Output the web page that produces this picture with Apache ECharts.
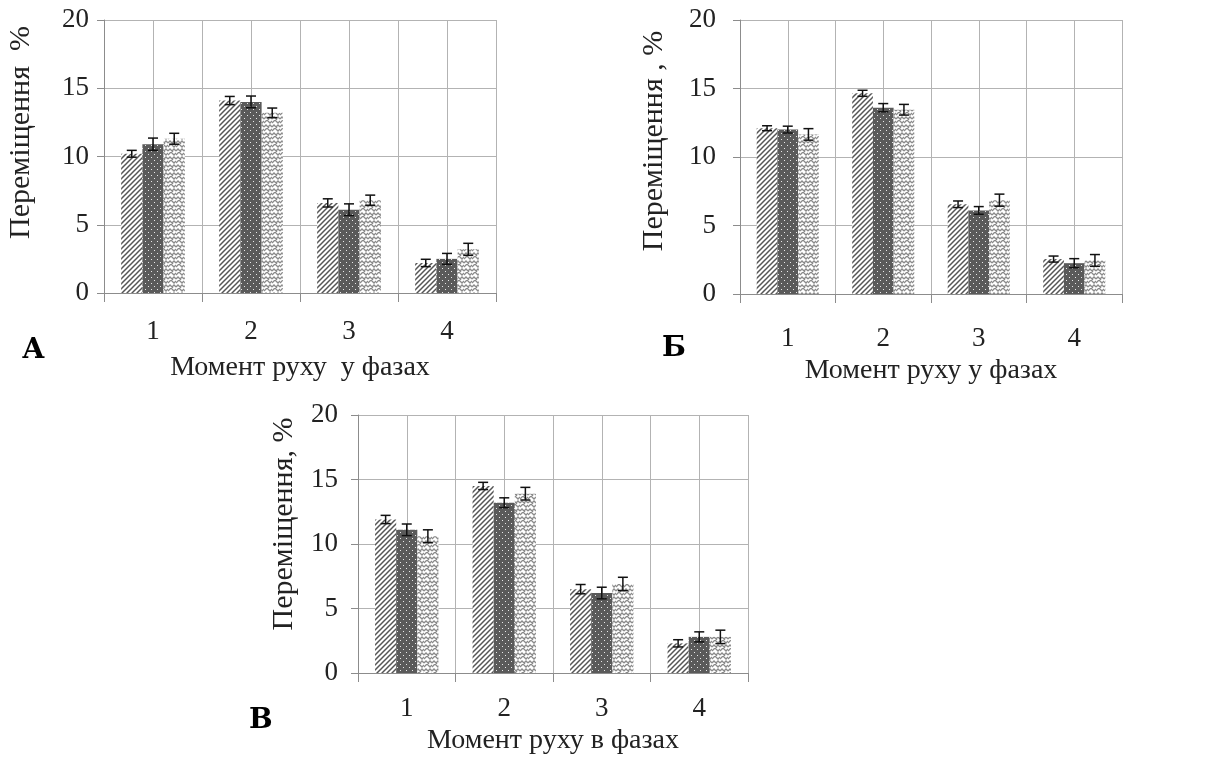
<!DOCTYPE html>
<html>
<head>
<meta charset="utf-8">
<script src="https://cdn.jsdelivr.net/npm/echarts@6/dist/echarts.min.js"></script>
<style>html,body{margin:0;padding:0;background:#fff;}#c{width:1211px;height:764px;}</style>
</head>
<body>
<div id="c"></div>
<script>
// ---- data ----
const categories = ['1', '2', '3', '4'];
const yTicks = [0, 5, 10, 15, 20];

const A_s1 = [10.2, 14.1, 6.6, 2.2];
const A_s1_err = [0.25, 0.3, 0.3, 0.27];
const A_s2 = [10.9, 14.0, 6.1, 2.5];
const A_s2_err = [0.45, 0.43, 0.43, 0.4];
const A_s3 = [11.3, 13.2, 6.8, 3.2];
const A_s3_err = [0.4, 0.35, 0.37, 0.44];

const B_s1 = [12.1, 14.65, 6.55, 2.55];
const B_s1_err = [0.18, 0.22, 0.24, 0.22];
const B_s2 = [12.0, 13.6, 6.1, 2.25];
const B_s2_err = [0.25, 0.3, 0.28, 0.33];
const B_s3 = [11.65, 13.45, 6.85, 2.45];
const B_s3_err = [0.42, 0.39, 0.44, 0.43];

const V_s1 = [11.9, 14.5, 6.5, 2.3];
const V_s1_err = [0.32, 0.28, 0.36, 0.28];
const V_s2 = [11.1, 13.2, 6.2, 2.8];
const V_s2_err = [0.45, 0.38, 0.45, 0.39];
const V_s3 = [10.6, 13.9, 6.9, 2.8];
const V_s3_err = [0.5, 0.49, 0.52, 0.52];

const yTitles = ['Переміщення  %', 'Переміщення , %', 'Переміщення, %'];
const xTitles = ['Момент руху  у фазах', 'Момент руху у фазах', 'Момент руху в фазах'];
const panelLetters = ['А', 'Б', 'В'];

// ---- patterns ----
function mkCanvas(w, h) { const c = document.createElement('canvas'); c.width = w; c.height = h; return c; }
function hatchPattern() {
  const c = mkCanvas(5, 5); const g = c.getContext('2d');
  g.fillStyle = '#fff'; g.fillRect(0, 0, 5, 5);
  g.strokeStyle = '#555'; g.lineWidth = 1.5;
  g.beginPath();
  g.moveTo(-1, 6); g.lineTo(6, -1);
  g.moveTo(-1, 1); g.lineTo(1, -1);
  g.moveTo(4, 6); g.lineTo(6, 4);
  g.stroke();
  return c;
}
function dotPattern() {
  const c = mkCanvas(6, 6); const g = c.getContext('2d');
  g.fillStyle = '#5a5a5a'; g.fillRect(0, 0, 6, 6);
  g.fillStyle = '#e8e8e8';
  g.fillRect(1, 1, 1, 1); g.fillRect(4, 4, 1, 1);
  return c;
}
function weavePattern() {
  const c = mkCanvas(8, 8); const g = c.getContext('2d');
  g.fillStyle = '#fff'; g.fillRect(0, 0, 8, 8);
  g.strokeStyle = '#8a8a8a'; g.lineWidth = 1.3;
  g.beginPath();
  g.moveTo(0, 3); g.lineTo(3, 0); g.lineTo(6, 3); g.lineTo(8, 1);
  g.moveTo(0, 7); g.lineTo(2, 5); g.lineTo(5, 8);
  g.moveTo(4, 7); g.lineTo(6, 5); g.lineTo(8, 7);
  g.moveTo(-1, 2); g.lineTo(0, 3);
  g.stroke();
  return c;
}
const fills = [
  { image: hatchPattern(), repeat: 'repeat' },
  { image: dotPattern(), repeat: 'repeat' },
  { image: weavePattern(), repeat: 'repeat' }
];

const CAT_GAP = 0.35;
const panels = [
  { grid: { left: 104, top: 20, width: 392, height: 273 }, series: [A_s1, A_s2, A_s3], errs: [A_s1_err, A_s2_err, A_s3_err],
    letter: { x: 22, y: 337 }, yLabMargin: 15, xLabMargin: 25, xNameGap: 61, yNameGap: 68, yNamePad: 48 },
  { grid: { left: 740, top: 20, width: 382, height: 274 }, series: [B_s1, B_s2, B_s3], errs: [B_s1_err, B_s2_err, B_s3_err],
    letter: { x: 662, y: 335 }, yLabMargin: 24, xLabMargin: 31, xNameGap: 63, yNameGap: 71, yNamePad: 32 },
  { grid: { left: 358, top: 415, width: 390, height: 258 }, series: [V_s1, V_s2, V_s3], errs: [V_s1_err, V_s2_err, V_s3_err],
    letter: { x: 249, y: 707 }, yLabMargin: 20, xLabMargin: 22, xNameGap: 54, yNameGap: 59, yNamePad: 40 }
];

const FONT = 'Liberation Serif';
const grid = [], xAxis = [], yAxis = [], series = [], graphic = [];
const halfCats = categories.flatMap(c => ['', '']);

function errRender(pos) {
  return function (params, api) {
    const c = api.value(0), v = api.value(1), e = api.value(2);
    const hi = api.coord([c, v + e]);
    const lo = api.coord([c, v - e]);
    const band = api.size([1, 0])[0];
    const bw = band * (1 - CAT_GAP) / 3;
    const x = hi[0] + (pos - 1) * bw;
    const cap = 5;
    const st = { stroke: '#111', lineWidth: 1.5 };
    return {
      type: 'group',
      children: [
        { type: 'line', shape: { x1: x, y1: hi[1], x2: x, y2: lo[1] }, style: st },
        { type: 'line', shape: { x1: x - cap, y1: hi[1], x2: x + cap, y2: hi[1] }, style: st },
        { type: 'line', shape: { x1: x - cap, y1: lo[1], x2: x + cap, y2: lo[1] }, style: st }
      ]
    };
  };
}

panels.forEach((p, i) => {
  grid.push(Object.assign({ containLabel: false }, p.grid));
  xAxis.push({
    type: 'category', gridIndex: i, data: categories, boundaryGap: true,
    axisLine: { lineStyle: { color: '#8c8c8c', width: 1 } },
    axisTick: { show: true, length: 9, lineStyle: { color: '#8c8c8c' } },
    axisLabel: { fontFamily: FONT, fontSize: 27, color: '#222', margin: p.xLabMargin },
    splitLine: { show: false },
    name: xTitles[i], nameLocation: 'middle', nameGap: p.xNameGap,
    nameTextStyle: { fontFamily: FONT, fontSize: 28, color: '#222' }
  });
  xAxis.push({
    type: 'category', gridIndex: i, data: halfCats, boundaryGap: true, show: true,
    axisLine: { show: false }, axisTick: { show: false }, axisLabel: { show: false },
    splitLine: { show: true, lineStyle: { color: '#b3b3b3', width: 1 } }
  });
  yAxis.push({
    type: 'value', gridIndex: i, min: yTicks[0], max: yTicks[yTicks.length - 1], interval: yTicks[1] - yTicks[0],
    axisLine: { show: true, lineStyle: { color: '#8c8c8c' } },
    axisTick: { show: true, length: 7, inside: false, lineStyle: { color: '#8c8c8c' } },
    axisLabel: { fontFamily: FONT, fontSize: 27, color: '#222', margin: p.yLabMargin },
    splitLine: { show: true, lineStyle: { color: '#b3b3b3', width: 1 } },
    name: yTitles[i], nameLocation: 'middle', nameRotate: 90, nameGap: p.yNameGap,
    nameTextStyle: { fontFamily: FONT, fontSize: 30, color: '#222', padding: [0, 0, 0, p.yNamePad] }
  });
  p.series.forEach((vals, k) => {
    series.push({
      type: 'bar', xAxisIndex: i * 2, yAxisIndex: i, data: vals,
      barGap: '0%', barCategoryGap: (CAT_GAP * 100) + '%',
      itemStyle: { color: fills[k] }, silent: true, z: 2
    });
  });
  p.series.forEach((vals, k) => {
    series.push({
      type: 'custom', xAxisIndex: i * 2, yAxisIndex: i, z: 5, silent: true,
      renderItem: errRender(k),
      data: vals.map((v, j) => [j, v, p.errs[k][j]])
    });
  });
  graphic.push({
    type: 'text', left: p.letter.x, top: p.letter.y,
    style: { text: panelLetters[i], font: 'bold 28px "DejaVu Serif"', fill: '#000' }
  });
});

const chart = echarts.init(document.getElementById('c'), null, { renderer: 'canvas' });
chart.setOption({
  animation: false,
  backgroundColor: '#fff',
  grid, xAxis, yAxis, series, graphic
});
</script>
</body>
</html>
